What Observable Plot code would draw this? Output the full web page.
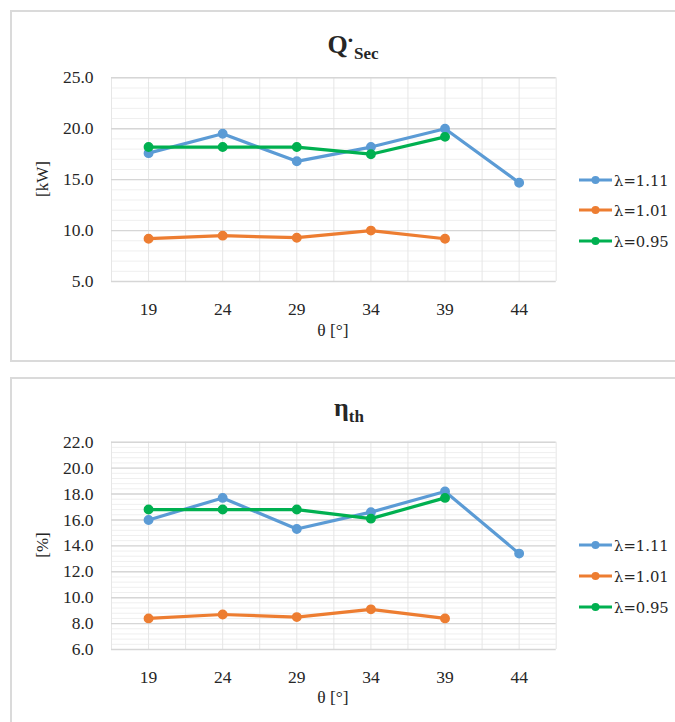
<!DOCTYPE html>
<html><head><meta charset="utf-8">
<script src="https://cdn.jsdelivr.net/npm/d3@7"></script>
<script src="https://cdn.jsdelivr.net/npm/@observablehq/plot@0.6"></script>
<style>
body{margin:0;background:#fff;width:675px;height:722px;overflow:hidden;position:relative;font-family:'Liberation Serif',serif;color:#262626;}
.frame{position:absolute;border:2px solid #dadada;box-sizing:border-box;}
.abs{position:absolute;white-space:nowrap;}
.title{font-weight:bold;font-size:26px;transform:translate(-50%,-50%);}
.title sub{font-size:17px;vertical-align:-6px;}
.title sup{font-size:22px;vertical-align:6px;margin-left:-1px;}
.axt{font-size:17.5px;transform:translate(-50%,-50%);}
.axr{font-size:17px;transform:translate(-50%,-50%) rotate(-90deg);}
.leg{font-family:'DejaVu Serif',serif;font-size:14.8px;display:flex;align-items:center;height:20px;transform:translateY(-50%);}
.leg svg{margin-right:1px;}
.chart{position:absolute;left:0;}
</style>
</head><body>
<div class="frame" style="left:10px;top:10px;width:690px;height:352px"></div>
<div class="frame" style="left:10px;top:377px;width:690px;height:380px"></div>
<div id="c1" class="chart" style="top:0"></div>
<div id="c2" class="chart" style="top:370px"></div>
<div class="abs title" style="left:353px;top:45px">Q<sup>·</sup><sub>Sec</sub></div>
<div class="abs title" style="left:349px;top:410px">η<sub>th</sub></div>
<div class="abs axt" style="left:333px;top:330px">θ [°]</div>
<div class="abs axt" style="left:333px;top:697px">θ [°]</div>
<div class="abs axr" style="left:43px;top:179px">[kW]</div>
<div class="abs axr" style="left:43px;top:545px">[%]</div>
<div id="leg1" class="abs" style="left:579px;top:0"></div>
<div id="leg2" class="abs" style="left:579px;top:0"></div>
<script>
// categories
const theta = [19, 24, 29, 34, 39, 44];
const seriesLabels = ["λ=1.11", "λ=1.01", "λ=0.95"];
const seriesColors = ["#5b9bd5", "#ed7d31", "#00b050"];
// Q_sec [kW]
const qLam111 = [17.6, 19.5, 16.8, 18.2, 20.0, 14.7];
const qLam101 = [9.2, 9.5, 9.3, 10.0, 9.2];
const qLam095 = [18.2, 18.2, 18.2, 17.5, 19.2];
// eta_th [%]
const etaLam111 = [16.0, 17.7, 15.3, 16.6, 18.2, 13.4];
const etaLam101 = [8.4, 8.7, 8.5, 9.1, 8.4];
const etaLam095 = [16.8, 16.8, 16.8, 16.1, 17.7];
// y tick labels
const qTicks = [5, 10, 15, 20, 25];
const etaTicks = [6, 8, 10, 12, 14, 16, 18, 20, 22];

function rows(arrs) {
  const out = [];
  arrs.forEach((a, i) => a.forEach((v, j) => out.push({series: seriesLabels[i], theta: theta[j], value: v})));
  return out;
}

function chart({data, ticks, minorStep, height, marginTop, marginBottom}) {
  const lo = ticks[0], hi = ticks[ticks.length - 1];
  const minor = d3.range(Math.round((hi - lo) / minorStep) + 1).map(i => lo + i * minorStep);
  const half = (theta[1] - theta[0]) / 2;
  const xLo = theta[0] - half, xHi = theta[theta.length - 1] + half;
  const xGrid = d3.range(Math.round((xHi - xLo) / half) + 1).map(i => xLo + i * half);
  const marks = [
    Plot.ruleY(minor, {stroke: "#efefef", strokeWidth: 1}),
    Plot.ruleX(xGrid, {stroke: "#e6e6e6", strokeWidth: 1}),
    Plot.ruleY(ticks, {stroke: "#d6d6d6", strokeWidth: 1.4}),
    Plot.axisY(ticks, {tickSize: 0, tickPadding: 18, tickFormat: d => d.toFixed(1), label: null, fontSize: 17.5, fill: "#262626"}),
    Plot.axisX(theta, {tickSize: 0, tickPadding: 21, tickFormat: d => String(d), label: null, fontSize: 17.5, fill: "#262626"})
  ];
  seriesLabels.forEach(s => {
    const d = data.filter(r => r.series === s);
    marks.push(Plot.line(d, {x: "theta", y: "value", stroke: "series", strokeWidth: 3.2, strokeLinejoin: "round"}));
    marks.push(Plot.dot(d, {x: "theta", y: "value", fill: "series", stroke: "series", r: 4.2}));
  });
  return Plot.plot({
    width: 675, height,
    marginLeft: 111, marginRight: 675 - 555.7, marginTop, marginBottom,
    x: {domain: [xLo, xHi]},
    y: {domain: [lo, hi]},
    color: {domain: seriesLabels, range: seriesColors},
    style: {fontFamily: "'Liberation Serif', serif", fontSize: "17.5px", background: "transparent", overflow: "visible"},
    marks
  });
}

document.getElementById("c1").append(chart({
  data: rows([qLam111, qLam101, qLam095]), ticks: qTicks, minorStep: 1,
  height: 360, marginTop: 77.3, marginBottom: 79
}));
document.getElementById("c2").append(chart({
  data: rows([etaLam111, etaLam101, etaLam095]), ticks: etaTicks, minorStep: 0.4,
  height: 352, marginTop: 71.7, marginBottom: 73
}));

function legend(el, ys) {
  seriesLabels.forEach((s, i) => {
    const row = document.createElement("div");
    row.className = "abs leg";
    row.style.top = ys[i] + "px";
    row.innerHTML = `<svg width="34" height="10"><line x1="0" y1="5" x2="33" y2="5" stroke="${seriesColors[i]}" stroke-width="3.2"/><circle cx="16.5" cy="5" r="4" fill="${seriesColors[i]}"/></svg><span>${s}</span>`;
    el.append(row);
  });
}
legend(document.getElementById("leg1"), [180, 210, 241]);
legend(document.getElementById("leg2"), [545, 576, 607]);
</script>
</body></html>
